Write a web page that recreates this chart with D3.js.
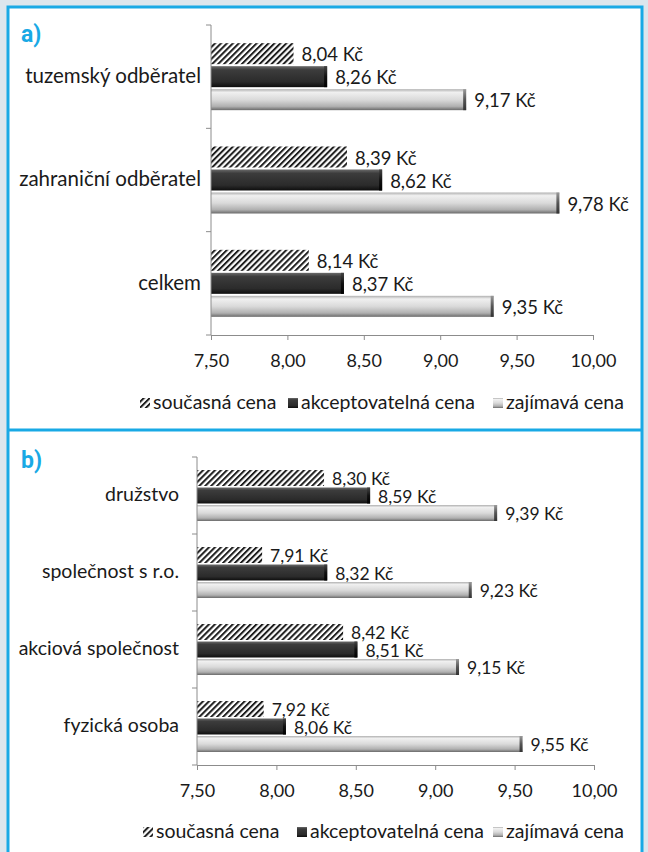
<!DOCTYPE html>
<html>
<head>
<meta charset="utf-8">
<script src="https://cdn.jsdelivr.net/npm/d3@7"></script>
<style>
  html, body { margin: 0; padding: 0; background: #dce6ed; }
  svg { display: block; }
  text { font-family: Lato, "Open Sans", sans-serif; fill: #1a1a1a; }
</style>
</head>
<body>
<svg id="chart" width="648" height="852"></svg>
<script>
// DATA

const seriesNames = ["současná cena", "akceptovatelná cena", "zajímavá cena"];
const tickValues = [7.5, 8, 8.5, 9, 9.5, 10];

// panel a)
const categoriesA = ["tuzemský odběratel", "zahraniční odběratel", "celkem"];
const currentA = [8.04, 8.39, 8.14];
const acceptableA = [8.26, 8.62, 8.37];
const attractiveA = [9.17, 9.78, 9.35];

// panel b)
const categoriesB = ["družstvo", "společnost s r.o.", "akciová společnost", "fyzická osoba"];
const currentB = [8.30, 7.91, 8.42, 7.92];
const acceptableB = [8.59, 8.32, 8.51, 8.06];
const attractiveB = [9.39, 9.23, 9.15, 9.55];

// SETUP

const svg = d3.select("#chart");
const blue = "#19a9e5";
const fmt = (v) => d3.format(".2f")(v).replace(".", ",");

// white card + borders
svg.append("rect").attr("x", 8).attr("y", 7).attr("width", 634).attr("height", 860)
  .attr("fill", "#fff").attr("stroke", blue).attr("stroke-width", 3);
svg.append("line").attr("x1", 8).attr("x2", 642).attr("y1", 430).attr("y2", 430)
  .attr("stroke", blue).attr("stroke-width", 3);

// ── fills: hatch pattern + bevelled gradients ──
const defs = svg.append("defs");

const hatch = defs.append("pattern").attr("id", "hatch")
  .attr("patternUnits", "userSpaceOnUse").attr("width", 4.2).attr("height", 4.2)
  .attr("patternTransform", "rotate(45)");
hatch.append("rect").attr("width", 4.2).attr("height", 4.2).attr("fill", "#fff");
hatch.append("rect").attr("width", 2).attr("height", 4.2).attr("fill", "#1e1e1e");

function vGradient(id, stops) {
  const g = defs.append("linearGradient").attr("id", id)
    .attr("x1", 0).attr("x2", 0).attr("y1", 0).attr("y2", 1);
  stops.forEach(([o, c]) => g.append("stop").attr("offset", o).attr("stop-color", c));
}
vGradient("darkGrad", [[0, "#6a6a6a"], [0.18, "#3c3c3c"], [0.75, "#2b2b2b"], [1, "#0e0e0e"]]);
vGradient("lightGrad", [[0, "#b0b0b0"], [0.15, "#f0f0f0"], [0.5, "#dadada"], [0.82, "#b0b0b0"], [1, "#6a6a6a"]]);
vGradient("capDark", [[0, "#444"], [0.5, "#111"], [1, "#000"]]);
vGradient("capLight", [[0, "#9a9a9a"], [0.5, "#555"], [1, "#333"]]);

const fills = ["url(#hatch)", "url(#darkGrad)", "url(#lightGrad)"];
const caps = [null, "url(#capDark)", "url(#capLight)"];

// PANEL DRAWING

function drawPanel(cfg) {
  const g = svg.append("g");
  const series = [cfg.current, cfg.acceptable, cfg.attractive];

  // panel letter
  g.append("text").attr("x", cfg.letterX).attr("y", cfg.letterY)
    .style("fill", blue).style("font-family", "Roboto, Arial, sans-serif")
    .attr("font-size", 23).attr("font-weight", "bold").text(cfg.letter);

  const x = d3.scaleLinear().domain([7.5, 10]).range(cfg.xRange);
  const y = d3.scaleBand().domain(cfg.categories).range(cfg.yRange);
  const groupH = cfg.barH * 3 + cfg.gap * 2;
  const inner = d3.scaleBand().domain(d3.range(3))
    .range([0, groupH]).paddingInner(cfg.gap / (cfg.barH + cfg.gap));

  // bars
  series.forEach((vals, si) => {
    const bars = g.selectAll(null).data(cfg.categories.map((c, i) => ({ c, v: vals[i] })))
      .enter().append("g")
      .attr("transform", (d) => `translate(0,${y(d.c) + (y.bandwidth() - groupH) / 2 + inner(si)})`);

    bars.append("rect")
      .attr("x", x(7.5)).attr("y", 0)
      .attr("width", (d) => x(d.v) - x(7.5)).attr("height", inner.bandwidth())
      .attr("fill", fills[si]);
    if (caps[si]) {
      bars.append("rect")
        .attr("x", (d) => x(d.v) - 3).attr("y", 0)
        .attr("width", 3).attr("height", inner.bandwidth())
        .attr("fill", caps[si]);
    }
    bars.append("text")
      .attr("x", (d) => x(d.v) + 8)
      .attr("y", inner.bandwidth() / 2 + 3)
      .attr("dominant-baseline", "middle")
      .attr("font-size", cfg.valueSize)
      .text((d) => fmt(d.v) + " Kč");
  });

  // y axis (line + ticks at band edges)
  const yAxisX = x(7.5);
  g.append("line").attr("x1", yAxisX).attr("x2", yAxisX)
    .attr("y1", cfg.yRange[0]).attr("y2", cfg.yRange[1]).attr("stroke", "#8c8c8c");
  const edges = cfg.categories.map((c) => y(c)).concat([cfg.yRange[1]]);
  g.selectAll(null).data(edges).enter().append("line")
    .attr("x1", yAxisX - 5).attr("x2", yAxisX).attr("y1", (d) => d).attr("y2", (d) => d)
    .attr("stroke", "#8c8c8c");

  // category labels
  g.selectAll(null).data(cfg.categories).enter().append("text")
    .attr("x", cfg.labelRight).attr("y", (d) => y(d) + y.bandwidth() / 2 + 1)
    .attr("text-anchor", "end").attr("dominant-baseline", "middle")
    .attr("font-size", cfg.labelSize).text((d) => d);

  // x axis
  const xAxis = d3.axisBottom(x).tickValues(tickValues).tickSize(5).tickSizeOuter(0)
    .tickPadding(14).tickFormat(fmt);
  const ax = g.append("g").attr("transform", `translate(0,${cfg.yRange[1]})`).call(xAxis);
  ax.select(".domain").attr("stroke", "#8c8c8c");
  ax.selectAll(".tick line").attr("stroke", "#8c8c8c");
  ax.selectAll(".tick text").attr("font-size", 18)
    .style("font-family", "Lato, 'Open Sans', sans-serif").style("fill", "#1a1a1a");

  // legend
  seriesNames.forEach((name, si) => {
    const lx = cfg.legendX[si];
    const ly = cfg.legendY;
    g.append("rect").attr("x", lx).attr("y", ly - 5).attr("width", 10).attr("height", 10)
      .attr("fill", fills[si]);
    g.append("text").attr("x", lx + 13).attr("y", ly + 1)
      .attr("dominant-baseline", "middle").attr("font-size", 19.5)
      .text(name);
  });
}

drawPanel({
  letter: "a)", letterX: 21, letterY: 42,
  categories: categoriesA, current: currentA, acceptable: acceptableA, attractive: attractiveA,
  xRange: [211, 593], yRange: [25, 335], barH: 21, gap: 2,
  labelRight: 201, labelSize: 20.5, valueSize: 18.5,
  legendX: [140, 288, 493], legendY: 403
});

drawPanel({
  letter: "b)", letterX: 21, letterY: 468,
  categories: categoriesB, current: currentB, acceptable: acceptableB, attractive: attractiveB,
  xRange: [197, 594], yRange: [457, 765], barH: 16, gap: 1.5,
  labelRight: 179, labelSize: 19.5, valueSize: 17.5,
  legendX: [143, 297, 493], legendY: 832
});
</script>
</body>
</html>
